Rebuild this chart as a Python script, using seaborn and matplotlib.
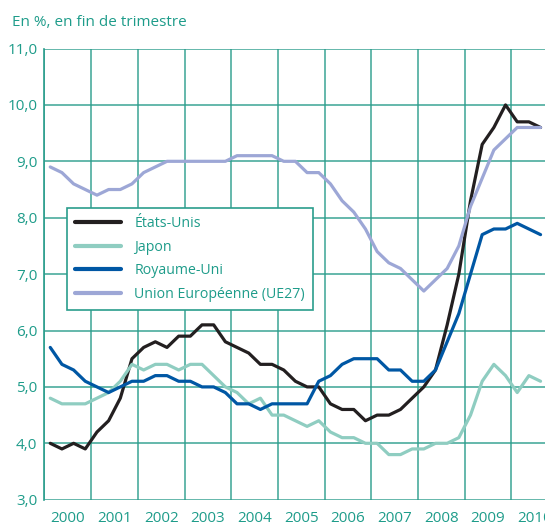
import numpy as np
import pandas as pd
import matplotlib
matplotlib.use("Agg")
import matplotlib.pyplot as plt
import seaborn as sns

# Quarterly unemployment rates, 2000Q1 - 2010Q3 (in %, end of quarter)
etats_unis = [4.0, 3.9, 4.0, 3.9, 4.2, 4.4, 4.8, 5.5, 5.7, 5.8, 5.7, 5.9,
              5.9, 6.1, 6.1, 5.8, 5.7, 5.6, 5.4, 5.4, 5.3, 5.1, 5.0, 5.0,
              4.7, 4.6, 4.6, 4.4, 4.5, 4.5, 4.6, 4.8, 5.0, 5.3, 6.1, 7.0,
              8.3, 9.3, 9.6, 10.0, 9.7, 9.7, 9.6]
japon = [4.8, 4.7, 4.7, 4.7, 4.8, 4.9, 5.1, 5.4, 5.3, 5.4, 5.4, 5.3,
         5.4, 5.4, 5.2, 5.0, 4.9, 4.7, 4.8, 4.5, 4.5, 4.4, 4.3, 4.4,
         4.2, 4.1, 4.1, 4.0, 4.0, 3.8, 3.8, 3.9, 3.9, 4.0, 4.0, 4.1,
         4.5, 5.1, 5.4, 5.2, 4.9, 5.2, 5.1]
royaume_uni = [5.7, 5.4, 5.3, 5.1, 5.0, 4.9, 5.0, 5.1, 5.1, 5.2, 5.2, 5.1,
               5.1, 5.0, 5.0, 4.9, 4.7, 4.7, 4.6, 4.7, 4.7, 4.7, 4.7, 5.1,
               5.2, 5.4, 5.5, 5.5, 5.5, 5.3, 5.3, 5.1, 5.1, 5.3, 5.8, 6.3,
               7.0, 7.7, 7.8, 7.8, 7.9, 7.8, 7.7]
ue27 = [8.9, 8.8, 8.6, 8.5, 8.4, 8.5, 8.5, 8.6, 8.8, 8.9, 9.0, 9.0,
        9.0, 9.0, 9.0, 9.0, 9.1, 9.1, 9.1, 9.1, 9.0, 9.0, 8.8, 8.8,
        8.6, 8.3, 8.1, 7.8, 7.4, 7.2, 7.1, 6.9, 6.7, 6.9, 7.1, 7.5,
        8.2, 8.7, 9.2, 9.4, 9.6, 9.6, 9.6]
series_names = ["États-Unis", "Japon", "Royaume-Uni", "Union Européenne (UE27)"]
years = list(range(2000, 2011))
y_ticks = [3.0, 4.0, 5.0, 6.0, 7.0, 8.0, 9.0, 10.0, 11.0]

colors = ["#231f20", "#8fcdc1", "#0057a4", "#9da7d6"]
teal = "#2a9d8c"
text_teal = "#1e9c8a"

# quarter centres on the time axis
quarters = 2000.125 + 0.25 * np.arange(len(etats_unis))
frames = []
for name, vals in zip(series_names, [etats_unis, japon, royaume_uni, ue27]):
    frames.append(pd.DataFrame({"t": quarters, "taux": vals, "pays": name}))
df = pd.concat(frames, ignore_index=True)

sns.set_style("white")
plt.rcParams["font.family"] = ["Open Sans", "DejaVu Sans"]

fig = plt.figure(figsize=(5.45, 5.28), dpi=100)
ax = fig.add_axes([0.0815, 0.0536, 0.9185, 0.8545])

# grid drawn first so lines sit underneath
for y in y_ticks:
    ax.axhline(y, color=teal, lw=1.2, zorder=0, alpha=0.85)
for yr in years + [2011]:
    ax.axvline(yr, color=teal, lw=1.2, zorder=0, alpha=0.85)

sns.lineplot(data=df, x="t", y="taux", hue="pays", hue_order=series_names,
             palette=colors, linewidth=2.3, ax=ax, zorder=3)

ax.set_xlim(2000, 2010.72)
ax.set_ylim(3.0, 11.0)
ax.set_xlabel("")
ax.set_ylabel("")

ax.set_yticks(y_ticks)
ax.set_yticklabels([f"{v:.1f}".replace(".", ",") for v in y_ticks])
ax.tick_params(axis="y", direction="in", length=5, width=2, color="#0e7f6e",
               labelcolor=text_teal, labelsize=11, pad=5)

ax.set_xticks(years)
ax.set_xticklabels([])
ax.set_xticks([y + 0.5 for y in years], minor=True)
ax.set_xticklabels([str(y) for y in years], minor=True)
ax.tick_params(axis="x", which="both", length=0, labelcolor=text_teal,
               labelsize=11, pad=8)

for side in ["top", "right", "bottom"]:
    ax.spines[side].set_visible(False)
ax.spines["left"].set_color(teal)
ax.spines["left"].set_linewidth(1.2)

leg = ax.legend(loc="upper left", bbox_to_anchor=(0.045, 0.6465), frameon=True,
                fancybox=False, edgecolor=teal, framealpha=1, fontsize=10.2,
                labelcolor=text_teal, handlelength=3.3, handletextpad=0.9,
                borderpad=0.55, labelspacing=0.62, borderaxespad=0)
leg.get_frame().set_linewidth(1.2)
for line in leg.get_lines():
    line.set_linewidth(3)

fig.text(0.022, 0.957, "En %, en fin de trimestre", color=text_teal,
         fontsize=11, va="center", ha="left")

fig.savefig("out.png", dpi=100)
